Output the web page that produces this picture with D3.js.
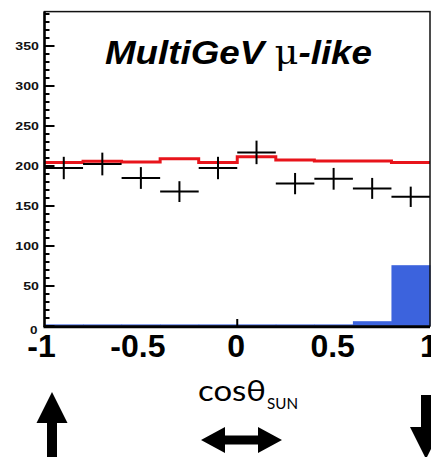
<!DOCTYPE html>
<html>
<head>
<meta charset="utf-8">
<script src="https://cdn.jsdelivr.net/npm/d3@7"></script>
<style>
  html, body { margin: 0; padding: 0; background: #fff; }
  svg { display: block; }
</style>
</head>
<body>
<div id="chart"></div>
<script>
// cosθ_sun binning: 10 bins of width 0.2 from -1 to 1
const binEdges = [-1, -0.8, -0.6, -0.4, -0.2, 0, 0.2, 0.4, 0.6, 0.8, 1];
// observed events per bin and their statistical errors
const dataCounts = [197.5, 202.5, 185, 168, 197.5, 217, 178, 184, 172, 161.5];
const dataErrors = [14, 14.2, 13.6, 13, 14, 14.7, 13.3, 13.6, 13.1, 12.7];
// expected (MC) events per bin
const mcCounts = [204.5, 206, 205, 209, 204.5, 211.5, 207.5, 206.3, 206.3, 204.5];
// solar neutrino contribution per bin
const sunCounts = [2, 2, 2, 2, 2, 2, 2, 2, 6, 76];
// axis labels
const xTickValues = [-1, -0.5, 0, 0.5, 1];
const xTickLabels = ["-1", "-0.5", "0", "0.5", "1"];
const yTickValues = [0, 50, 100, 150, 200, 250, 300, 350];

const W = 431, H = 457;
const frame = { left: 44.5, right: 430, top: 11.6, bottom: 326 };

const svg = d3.select("#chart").append("svg")
  .attr("width", W).attr("height", H);

const x = d3.scaleLinear().domain([-1, 1]).range([frame.left, frame.right]);
const y = d3.scaleLinear().domain([0, 393]).range([frame.bottom, frame.top]);

const bins = dataCounts.map((v, i) => ({
  x0: binEdges[i], x1: binEdges[i + 1], v, err: dataErrors[i],
  mc: mcCounts[i], sun: sunCounts[i]
}));

// solar component (blue filled histogram)
svg.append("g").selectAll("rect").data(bins).join("rect")
  .attr("x", d => x(d.x0))
  .attr("width", d => x(d.x1) - x(d.x0) + 0.5)
  .attr("y", d => y(d.sun))
  .attr("height", d => y(0) - y(d.sun))
  .attr("fill", "#3c63dd");

// expected histogram (red step line)
const stepPts = bins.map(d => [d.x0, d.mc]).concat([[1, mcCounts[mcCounts.length - 1]]]);
svg.append("path")
  .datum(stepPts)
  .attr("d", d3.line().x(d => x(d[0])).y(d => y(d[1])).curve(d3.curveStepAfter))
  .attr("fill", "none")
  .attr("stroke", "#e8141b")
  .attr("stroke-width", 3);

// data crosses: horizontal = bin width, vertical = error
const crosses = svg.append("g").attr("stroke", "#000").attr("stroke-width", 2);
crosses.selectAll("line.h").data(bins).join("line").attr("class", "h")
  .attr("x1", d => x(d.x0)).attr("x2", d => x(d.x1))
  .attr("y1", d => y(d.v)).attr("y2", d => y(d.v));
crosses.selectAll("line.v").data(bins).join("line").attr("class", "v")
  .attr("x1", d => x((d.x0 + d.x1) / 2)).attr("x2", d => x((d.x0 + d.x1) / 2))
  .attr("y1", d => y(d.v - d.err)).attr("y2", d => y(d.v + d.err));

// frame
svg.append("rect")
  .attr("x", frame.left).attr("y", frame.top)
  .attr("width", frame.right - frame.left).attr("height", frame.bottom - frame.top)
  .attr("fill", "none").attr("stroke", "#111").attr("stroke-width", 1.5);

// y axis: major ticks every 50, minor every 10, drawn inside the frame
const yAxis = svg.append("g").attr("stroke", "#000");
yAxis.append("line")
  .attr("x1", frame.left).attr("x2", frame.left)
  .attr("y1", frame.top).attr("y2", frame.bottom + 1)
  .attr("stroke-width", 2.5);
const minor = d3.range(0, 393, 10);
yAxis.selectAll("line.t").data(minor).join("line").attr("class", "t")
  .attr("x1", frame.left)
  .attr("x2", d => frame.left + (d % 50 === 0 ? 10 : 5))
  .attr("y1", d => y(d)).attr("y2", d => y(d))
  .attr("stroke-width", 2);

const yLab = svg.append("g");
yLab.selectAll("g").data(yTickValues).join("g")
  .attr("transform", d => `translate(${d === 0 ? 37.5 : 39},${y(d) + (d === 0 ? 4 : 0)})`)
  .append("text")
  .attr("transform", "scale(1.35,1)")
  .attr("text-anchor", "end")
  .attr("dy", "0.36em")
  .attr("font-family", "Liberation Sans, Arial, sans-serif")
  .attr("font-weight", "bold")
  .attr("font-size", d => d === 0 ? 10 : 10.5)
  .attr("fill", "#111")
  .text(d => d);

// x axis line and the tick at zero
svg.append("line")
  .attr("x1", frame.left - 1).attr("x2", frame.right)
  .attr("y1", y(0) + 1).attr("y2", y(0) + 1)
  .attr("stroke", "#000").attr("stroke-width", 2.5);
svg.append("line")
  .attr("x1", x(0)).attr("x2", x(0))
  .attr("y1", y(0)).attr("y2", y(0) - 7)
  .attr("stroke", "#000").attr("stroke-width", 2);

svg.append("g").selectAll("text").data(xTickValues).join("text")
  .attr("x", (d, i) => x(d) - (xTickLabels[i].startsWith("-") ? 3 : 1))
  .attr("y", 357)
  .attr("text-anchor", "middle")
  .attr("font-family", "Liberation Sans, Arial, sans-serif")
  .attr("font-weight", "bold")
  .attr("font-size", 32)
  .attr("fill", "#000")
  .text((d, i) => xTickLabels[i]);

// sample title
const title = svg.append("text")
  .attr("x", 105).attr("y", 64)
  .attr("textLength", 267).attr("lengthAdjust", "spacingAndGlyphs")
  .attr("font-family", "Liberation Sans, Arial, sans-serif")
  .attr("font-weight", "bold")
  .attr("font-size", 33)
  .attr("fill", "#000");
title.append("tspan").attr("font-style", "italic").text("MultiGeV ");
title.append("tspan").attr("font-weight", "normal").attr("font-family", "DejaVu Serif, serif").text("μ");
title.append("tspan").attr("font-style", "italic").text("-like");

// direction annotation below the axis
const ann = svg.append("text")
  .attr("x", 198).attr("y", 400.5)
  .attr("font-family", "Lato, Open Sans, sans-serif")
  .attr("fill", "#000");
ann.append("tspan").attr("font-size", 28).attr("textLength", 68)
  .attr("lengthAdjust", "spacingAndGlyphs").text("cosθ");
svg.append("text")
  .attr("x", 267).attr("y", 408.5)
  .attr("textLength", 31).attr("lengthAdjust", "spacingAndGlyphs")
  .attr("font-family", "Lato, Open Sans, sans-serif")
  .attr("font-size", 14.5)
  .attr("fill", "#000")
  .text("SUN");

// arrows: up (cos = -1), double (cos ≈ 0), down (cos = +1)
function arrowPath(p, cx, tipY, headW, headL, shaftW, endY) {
  const dir = Math.sign(endY - tipY);
  p.moveTo(cx, tipY);
  p.lineTo(cx + headW / 2, tipY + dir * headL);
  p.lineTo(cx + shaftW / 2, tipY + dir * headL);
  p.lineTo(cx + shaftW / 2, endY);
  p.lineTo(cx - shaftW / 2, endY);
  p.lineTo(cx - shaftW / 2, tipY + dir * headL);
  p.lineTo(cx - headW / 2, tipY + dir * headL);
  p.closePath();
}
const up = d3.path();
arrowPath(up, 52, 392, 31, 31, 10, 460);
svg.append("path").attr("d", up.toString()).attr("fill", "#000");

const down = d3.path();
arrowPath(down, 426, 459, 32, 32, 10, 395);
svg.append("path").attr("d", down.toString()).attr("fill", "#000");

const dbl = d3.path();
const cy = 440, hw = 26, hl = 24, sw = 9, xl = 201, xr = 282;
dbl.moveTo(xl, cy);
dbl.lineTo(xl + hl, cy - hw / 2);
dbl.lineTo(xl + hl, cy - sw / 2);
dbl.lineTo(xr - hl, cy - sw / 2);
dbl.lineTo(xr - hl, cy - hw / 2);
dbl.lineTo(xr, cy);
dbl.lineTo(xr - hl, cy + hw / 2);
dbl.lineTo(xr - hl, cy + sw / 2);
dbl.lineTo(xl + hl, cy + sw / 2);
dbl.lineTo(xl + hl, cy + hw / 2);
dbl.closePath();
svg.append("path").attr("d", dbl.toString()).attr("fill", "#000");
</script>
</body>
</html>
